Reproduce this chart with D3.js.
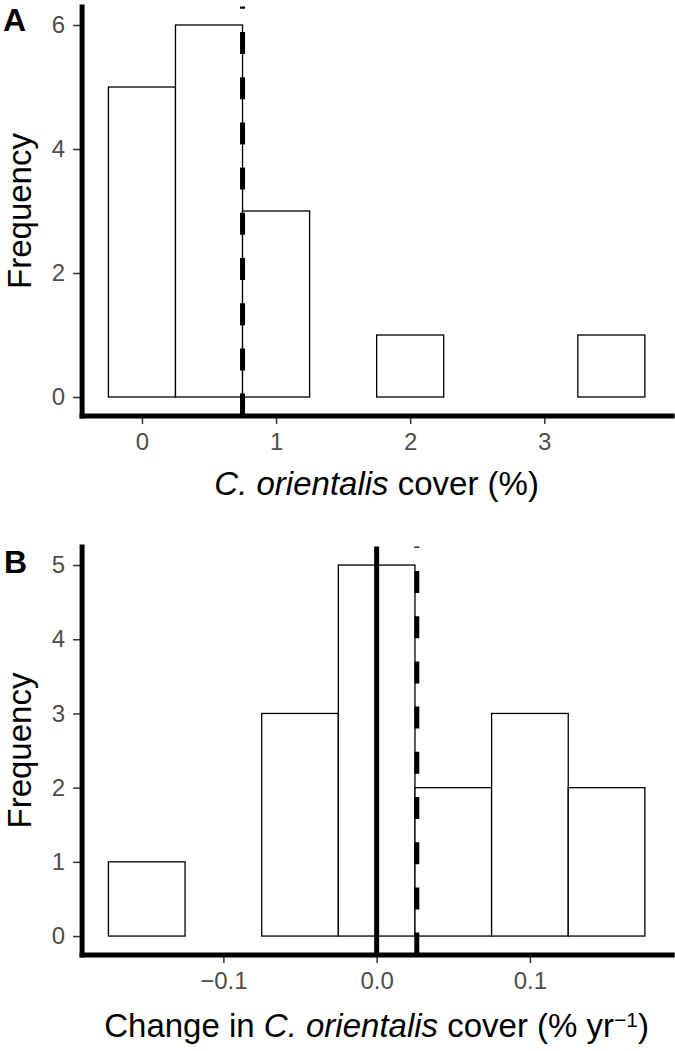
<!DOCTYPE html>
<html>
<head>
<meta charset="utf-8">
<script src="https://cdn.jsdelivr.net/npm/d3@7"></script>
<style>
  html, body { margin: 0; padding: 0; background: #fff; }
  svg { display: block; font-family: "Liberation Sans", Arial, Helvetica, sans-serif; }
</style>
</head>
<body>
<svg id="chart" width="675" height="1051"></svg>
<script>
// ---- Panel A data: C. orientalis cover (%) histogram ----
const aBinMids = [0, 0.5, 1, 1.5, 2, 2.5, 3, 3.5];
const aCounts  = [5, 6, 3, 0, 1, 0, 0, 1];
const aBinWidth = 0.5;
const aMean = 0.75;
const aXTicks = [0, 1, 2, 3];
const aYTicks = [0, 2, 4, 6];

// ---- Panel B data: change in cover (% per yr) histogram ----
const bBinMids = [-0.15, -0.1, -0.05, 0, 0.05, 0.1, 0.15];
const bCounts  = [1, 0, 3, 5, 2, 3, 2];
const bBinWidth = 0.05;
const bMean = 0.0262;
const bZero = 0;
const bXTicks = [-0.1, 0, 0.1];
const bYTicks = [0, 1, 2, 3, 4, 5];

const svg = d3.select("#chart");

function panel(cfg) {
  const g = svg.append("g");
  const x = d3.scaleLinear().domain(cfg.xDomain).range([81.6, 671.7]);
  const y = d3.scaleLinear().domain(cfg.yDomain).range(cfg.yRange);
  const bins = cfg.mids.map((m, i) => ({ x0: m - cfg.bw / 2, x1: m + cfg.bw / 2, n: cfg.counts[i] }));

  // bars
  g.selectAll("rect.bar").data(bins).join("rect")
    .attr("class", "bar")
    .attr("x", d => x(d.x0))
    .attr("width", d => x(d.x1) - x(d.x0))
    .attr("y", d => y(d.n))
    .attr("height", d => y(0) - y(d.n))
    .attr("fill", "#fff")
    .attr("stroke", "#000")
    .attr("stroke-width", 1.3);

  const top = y.range()[1], bottom = y.range()[0];

  // solid reference lines
  (cfg.solid || []).forEach(v => {
    g.append("line")
      .attr("x1", x(v)).attr("x2", x(v))
      .attr("y1", bottom).attr("y2", top)
      .attr("stroke", "#000").attr("stroke-width", 5);
  });
  // dashed mean lines (drawn bottom to top)
  (cfg.dashed || []).forEach(v => {
    g.append("line")
      .attr("x1", x(v)).attr("x2", x(v))
      .attr("y1", bottom).attr("y2", top)
      .attr("stroke", "#000").attr("stroke-width", 5)
      .attr("stroke-dasharray", "22 23.2");
  });

  // axes
  const xAxis = d3.axisBottom(x).tickValues(cfg.xTicks).tickFormat(cfg.xFormat)
    .tickSize(8.5).tickSizeOuter(0).tickPadding(8.5);
  const yAxis = d3.axisLeft(y).tickValues(cfg.yTicks).tickFormat(d3.format("d"))
    .tickSize(8.5).tickSizeOuter(0).tickPadding(8);

  const gx = g.append("g").attr("transform", `translate(0,${bottom})`).call(xAxis);
  const gy = g.append("g").attr("transform", `translate(${x.range()[0]},0)`).call(yAxis);
  [gx, gy].forEach(ax => {
    ax.attr("font-size", null).attr("font-family", null);
    ax.select(".domain").attr("stroke", "#000").attr("stroke-width", 5).attr("stroke-linecap", "square");
    ax.selectAll(".tick line").attr("stroke", "#333333").attr("stroke-width", 1.5);
    ax.selectAll(".tick text").attr("fill", "#4D4D4D").style("font-size", "24px")
      .style("font-family", "'Liberation Sans', Arial, sans-serif");
  });
  gx.select(".domain").raise();
  gy.select(".domain").raise();

  // y title
  const midY = (top + bottom) / 2;
  g.append("text")
    .attr("transform", `translate(31,${midY}) rotate(-90)`)
    .attr("text-anchor", "middle")
    .attr("font-size", "33px").attr("fill", "#000")
    .text("Frequency");

  // panel letter
  g.append("text")
    .attr("x", cfg.letterX).attr("y", cfg.letterY)
    .attr("font-size", "32px").attr("font-weight", "bold").attr("fill", "#000")
    .text(cfg.letter);

  // x title
  const xt = g.append("text")
    .attr("x", (x.range()[0] + x.range()[1]) / 2)
    .attr("y", cfg.titleY)
    .attr("text-anchor", "middle")
    .attr("font-size", "33px").attr("fill", "#000");
  cfg.title(xt);
}

panel({
  mids: aBinMids, counts: aCounts, bw: aBinWidth,
  xDomain: [-0.45, 3.95], yDomain: [-0.3, 6.3], yRange: [415.6, 6.4],
  xTicks: aXTicks, yTicks: aYTicks, xFormat: d3.format("d"),
  dashed: [aMean],
  letter: "A", letterX: 3, letterY: 31,
  titleY: 495,
  title: t => {
    t.append("tspan").attr("font-style", "italic").text("C. orientalis");
    t.append("tspan").text(" cover (%)");
  }
});

panel({
  mids: bBinMids, counts: bCounts, bw: bBinWidth,
  xDomain: [-0.1925, 0.1925], yDomain: [-0.25, 5.25], yRange: [954.6, 546.5],
  xTicks: bXTicks, yTicks: bYTicks, xFormat: d3.format(".1f"),
  solid: [bZero], dashed: [bMean],
  letter: "B", letterX: 4, letterY: 573,
  titleY: 1037,
  title: t => {
    t.append("tspan").text("Change in ");
    t.append("tspan").attr("font-style", "italic").text("C. orientalis");
    t.append("tspan").text(" cover (% yr");
    t.append("tspan").attr("font-size", "21px").attr("dy", -10).text("\u22121");
    t.append("tspan").attr("dy", 10).text(")");
  }
});
</script>
</body>
</html>
